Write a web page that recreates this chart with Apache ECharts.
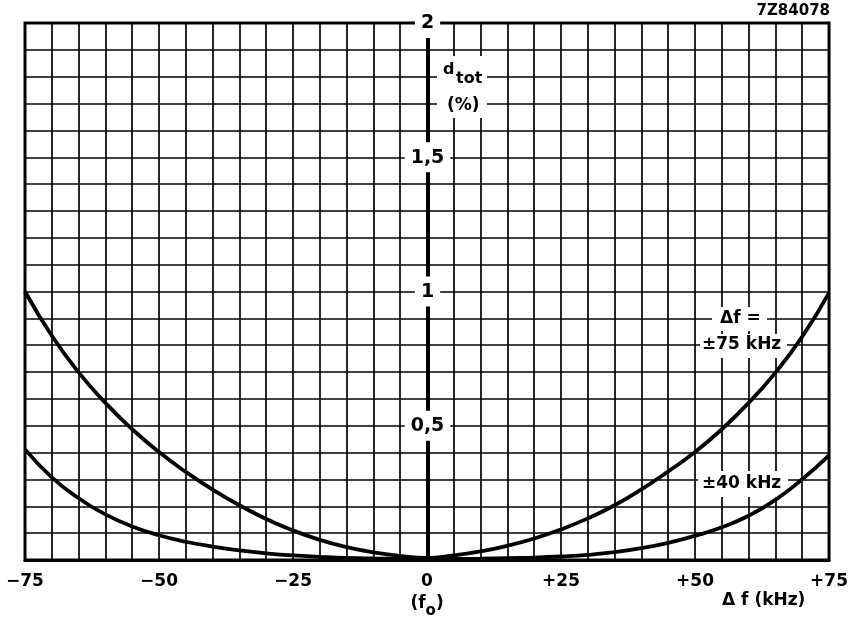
<!DOCTYPE html>
<html>
<head>
<meta charset="utf-8">
<script src="https://cdn.jsdelivr.net/npm/echarts@6/dist/echarts.min.js"></script>
<style>
  html, body { margin: 0; padding: 0; background: #fff; }
  #chart { width: 851px; height: 619px; }
</style>
</head>
<body>
<div id="chart"></div>
<script>
// Frequency deviation from the carrier f0 (kHz)
const deviation = [-75, -70, -65, -60, -55, -50, -45, -40, -35, -30, -25, -20, -15, -10, -5,
                   0, 5, 10, 15, 20, 25, 30, 35, 40, 45, 50, 55, 60, 65, 70, 75];
// Total distortion d_tot (%) for a modulation deviation of ±75 kHz
const dtot75 = [1.0, 0.835, 0.699, 0.585, 0.487, 0.402, 0.328, 0.262, 0.204, 0.153, 0.11, 0.075, 0.048, 0.028, 0.015,
                0.008, 0.017, 0.032, 0.053, 0.08, 0.114, 0.155, 0.204, 0.263, 0.33, 0.402, 0.487, 0.585, 0.698, 0.832, 0.995];
// Total distortion d_tot (%) for a modulation deviation of ±40 kHz
const dtot40 = [0.412, 0.308, 0.23, 0.17, 0.125, 0.092, 0.068, 0.05, 0.036, 0.025, 0.017, 0.012, 0.008, 0.006, 0.005,
                0.004, 0.004, 0.005, 0.007, 0.009, 0.013, 0.019, 0.029, 0.044, 0.064, 0.09, 0.122, 0.165, 0.224, 0.301, 0.39];
// Labelled ticks
const xTickValues = [-75, -50, -25, 0, 25, 50, 75];
const yTickValues = [0.5, 1, 1.5, 2];
const yTickText = ['0,5', '1', '1,5', '2'];

const FONT = '"DejaVu Sans", "Liberation Sans", sans-serif';
const PLOT = { left: 25, right: 21, top: 23, bottom: 58 };
const CHART_W = 851;

function xLabel(v) {
  const idx = xTickValues.findIndex(t => Math.abs(t - v) < 1e-6);
  if (idx < 0) return '';
  const t = xTickValues[idx];
  if (t === 0) return '{n|0}\n{p|(f}{s|o}{p|)}';
  if (t < 0) return '{n|\u2212' + Math.abs(t) + '}';
  return '{n|+' + t + '}';
}

function yLabel(v) {
  const idx = yTickValues.findIndex(t => Math.abs(t - v) < 1e-6);
  return idx < 0 ? '' : '{b|' + yTickText[idx] + '}';
}

const chart = echarts.init(document.getElementById('chart'), null, { renderer: 'canvas' });

const textStyle = (extra) => Object.assign({
  fill: '#000', fontFamily: FONT, fontWeight: 'bold', align: 'left', verticalAlign: 'top'
}, extra);

// the value axis sits in the middle of the plot, at f0
const centreOffset = -(CHART_W - PLOT.left - PLOT.right) / 2;

chart.setOption({
  animation: false,
  backgroundColor: '#fff',
  grid: Object.assign({
    show: true, borderColor: '#000', borderWidth: 3, backgroundColor: 'transparent'
  }, PLOT),
  xAxis: {
    type: 'value', min: -75, max: 75, interval: 5,
    axisLine: { show: true, lineStyle: { color: '#000', width: 3 } },
    axisTick: { show: false },
    splitLine: { show: true, lineStyle: { color: '#000', width: 1.7 } },
    axisLabel: {
      show: true, margin: 8, formatter: xLabel, showMinLabel: true, showMaxLabel: true,
      rich: {
        n: { fontFamily: FONT, fontWeight: 'bold', fontSize: 17, color: '#000', lineHeight: 27 },
        p: { fontFamily: FONT, fontWeight: 'bold', fontSize: 17, color: '#000', lineHeight: 24, verticalAlign: 'top' },
        s: { fontFamily: FONT, fontWeight: 'bold', fontSize: 15, color: '#000', lineHeight: 14, verticalAlign: 'bottom' }
      }
    }
  },
  yAxis: {
    type: 'value', min: 0, max: 2, interval: 0.1,
    offset: centreOffset,
    axisLine: { show: true, onZero: false, lineStyle: { color: '#000', width: 4 } },
    axisTick: { show: false },
    splitLine: { show: true, lineStyle: { color: '#000', width: 1.7 } },
    axisLabel: {
      show: true, margin: 0, align: 'center', formatter: yLabel,
      showMinLabel: true, showMaxLabel: true,
      rich: {
        b: {
          fontFamily: FONT, fontWeight: 'bold', fontSize: 19, color: '#000', lineHeight: 21,
          backgroundColor: '#fff', padding: [6, 6, 5, 6]
        }
      }
    }
  },
  series: [
    {
      name: '\u00b175 kHz', type: 'line', smooth: 0.5, showSymbol: false, symbol: 'none',
      lineStyle: { color: '#000', width: 3.8 },
      data: deviation.map((x, i) => [x, dtot75[i]]), z: 25
    },
    {
      name: '\u00b140 kHz', type: 'line', smooth: 0.5, showSymbol: false, symbol: 'none',
      lineStyle: { color: '#000', width: 3.8 },
      data: deviation.map((x, i) => [x, dtot40[i]]), z: 25
    }
  ],
  graphic: [
    { type: 'text', z: 20, style: textStyle({ x: 830, y: 4, align: 'right', text: '7Z84078', fontSize: 15 }) },

    // y-axis title d_tot (%)
    { type: 'rect', z: 19, shape: { x: 437, y: 56, width: 50, height: 62 }, style: { fill: '#fff' } },
    { type: 'text', z: 20, style: textStyle({ x: 443, y: 62, text: 'd', fontSize: 16 }) },
    { type: 'text', z: 20, style: textStyle({ x: 456, y: 71, text: 'tot', fontSize: 16 }) },
    { type: 'text', z: 20, style: textStyle({ x: 447, y: 97, text: '(%)', fontSize: 17 }) },

    // curve labels
    { type: 'rect', z: 19, shape: { x: 712, y: 307, width: 55, height: 24 }, style: { fill: '#fff' } },
    { type: 'text', z: 20, style: textStyle({ x: 720, y: 310, text: '\u0394f =', fontSize: 17 }) },
    { type: 'rect', z: 19, shape: { x: 700, y: 334, width: 87, height: 24 }, style: { fill: '#fff' } },
    { type: 'text', z: 20, style: textStyle({ x: 702, y: 336, text: '\u00b175 kHz', fontSize: 17 }) },
    { type: 'rect', z: 19, shape: { x: 698, y: 471, width: 90, height: 26 }, style: { fill: '#fff' } },
    { type: 'text', z: 20, style: textStyle({ x: 702, y: 475, text: '\u00b140 kHz', fontSize: 17 }) },

    // x-axis title
    { type: 'text', z: 20, style: textStyle({ x: 722, y: 592, text: '\u0394 f (kHz)', fontSize: 17 }) }
  ]
});
</script>
</body>
</html>
